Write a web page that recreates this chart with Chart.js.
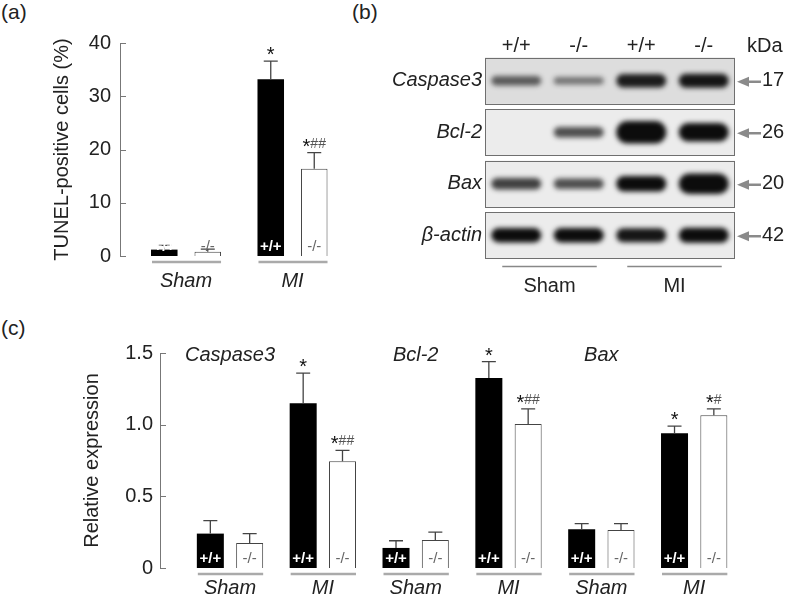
<!DOCTYPE html>
<html>
<head>
<meta charset="utf-8">
<script src="https://cdn.jsdelivr.net/npm/chart.js@4.4.1/dist/chart.umd.min.js"></script>
<style>
  html, body { margin: 0; padding: 0; background: #fff; }
  #fig { position: relative; width: 787px; height: 598px; font-family: "Liberation Sans", Arial, sans-serif; color: #222; }
  .tag { position: absolute; font-size: 21px; line-height: 24px; }
  canvas { position: absolute; }
</style>
</head>
<body>
<div id="fig">
  <div class="tag" style="left:1px;top:0px">(a)</div>
  <div class="tag" style="left:352px;top:0px">(b)</div>
  <div class="tag" style="left:1px;top:316px">(c)</div>
  <canvas id="chartA" width="352" height="300" style="left:0;top:0"></canvas>
  <canvas id="chartB" width="427" height="300" style="left:360px;top:0"></canvas>
  <canvas id="chartC" width="787" height="298" style="left:0;top:300px"></canvas>
</div>
<script>
// ---- (a) TUNEL ----
const groups = ['Sham', 'MI'];
const tunelWT = [1.2, 33.2];
const tunelWTErr = [0.8, 3.4];
const tunelKO = [0.8, 16.4];
const tunelKOErr = [0.5, 3.0];
const tunelWTMarks = ['', '*'];
const tunelKOMarks = ['', '*##'];

// ---- (b) western blot ----
const lanes = ['+/+', '-/-', '+/+', '-/-'];
const laneGroups = ['Sham', 'MI'];
const blotRows = ['Caspase3', 'Bcl-2', 'Bax', 'β-actin'];
const blotKDa = ['17', '26', '20', '42'];
const signalCasp3 = [0.5, 0.35, 0.9, 0.95];
const signalBcl2 = [0, 0.6, 1.8, 1.4];
const signalBax = [0.7, 0.6, 1.1, 1.6];
const signalActin = [1.0, 1.0, 0.95, 1.05];

// ---- (c) relative expression ----
const proteins = ['Caspase3', 'Bcl-2', 'Bax'];
const exprGroups = ['Sham', 'MI', 'Sham', 'MI', 'Sham', 'MI'];
const exprWT = [0.24, 1.15, 0.14, 1.325, 0.27, 0.94];
const exprWTErr = [0.09, 0.21, 0.05, 0.115, 0.04, 0.05];
const exprKO = [0.175, 0.745, 0.195, 1.005, 0.265, 1.065];
const exprKOErr = [0.065, 0.075, 0.055, 0.105, 0.045, 0.045];
const exprWTMarks = ['', '*', '', '*', '', '*'];
const exprKOMarks = ['', '*##', '', '*##', '', '*#'];

const FONT = '"Liberation Sans", Arial, sans-serif';
Chart.defaults.font.family = FONT;
Chart.defaults.color = '#222';

// error bars, stars, bar tags, inward ticks, group underlines
const barDecor = {
  id: 'barDecor',
  afterDatasetsDraw(chart, args, opts) {
    const { ctx, chartArea: area, scales: { x, y } } = chart;
    ctx.save();
    ctx.strokeStyle = '#777';
    ctx.lineWidth = 1;
    y.ticks.forEach(t => {
      const py = Math.round(y.getPixelForValue(t.value)) + 0.5;
      ctx.beginPath();
      ctx.moveTo(area.left, py);
      ctx.lineTo(area.left + 6, py);
      ctx.stroke();
    });

    chart.data.datasets.forEach((ds, di) => {
      const meta = chart.getDatasetMeta(di);
      meta.data.forEach((bar, i) => {
        const v = ds.data[i].y;
        const capY = y.getPixelForValue(v + ds.errs[i]);
        ctx.strokeStyle = '#444';
        ctx.lineWidth = 1.3;
        ctx.beginPath();
        ctx.moveTo(bar.x, bar.y);
        ctx.lineTo(bar.x, capY);
        ctx.moveTo(bar.x - 7, capY);
        ctx.lineTo(bar.x + 7, capY);
        ctx.stroke();

        // genotype tag inside bar
        ctx.textAlign = 'center';
        ctx.textBaseline = 'alphabetic';
        ctx.fillStyle = ds.tagColor;
        ctx.font = (ds.tagBold ? 'bold ' : '') + '15px ' + FONT;
        ctx.fillText(ds.tag, bar.x, bar.base - 5);

        // significance marks: black star, grey hashes
        const mark = ds.marks[i];
        if (mark) {
          const parts = mark.split('').map(c => c === '*'
            ? { c, font: '20px ' + FONT, color: '#111', dy: 0 }
            : { c, font: '14px ' + FONT, color: '#555', dy: -5 });
          let w = 0;
          parts.forEach(p => { ctx.font = p.font; p.w = ctx.measureText(p.c).width; w += p.w; });
          let px = bar.x - w / 2;
          ctx.textAlign = 'left';
          parts.forEach(p => {
            ctx.font = p.font;
            ctx.fillStyle = p.color;
            ctx.fillText(p.c, px, capY + p.dy);
            px += p.w;
          });
        }
      });
    });

    // grey underline under each pair
    const m0 = chart.getDatasetMeta(0), m1 = chart.getDatasetMeta(1);
    ctx.strokeStyle = '#aaa';
    ctx.lineWidth = 2.5;
    m0.data.forEach((b0, i) => {
      const b1 = m1.data[i];
      const ly = b0.base + 6;
      ctx.beginPath();
      ctx.moveTo(b0.x - b0.width / 2 + 1, ly);
      ctx.lineTo(b1.x + b1.width / 2, ly);
      ctx.stroke();
    });

    // protein titles over the Sham pairs
    (opts.titles || []).forEach((t, k) => {
      const i = k * 2;
      const cx = (m0.data[i].x + m1.data[i].x) / 2;
      ctx.font = 'italic 20px ' + FONT;
      ctx.fillStyle = '#222';
      ctx.textAlign = 'center';
      ctx.textBaseline = 'middle';
      ctx.fillText(t, cx, area.top + 2);
    });
    ctx.restore();
  }
};

function barPanel(id, o) {
  return new Chart(document.getElementById(id), {
    type: 'bar',
    data: {
      datasets: [
        { data: o.wt.map((v, i) => ({ x: i, y: v })), backgroundColor: '#000', borderColor: '#000', borderWidth: 0,
          errs: o.wtErr, marks: o.wtMarks, tag: '+/+', tagColor: '#fff', tagBold: true },
        { data: o.ko.map((v, i) => ({ x: i, y: v })), backgroundColor: '#fff', borderColor: '#444', borderWidth: 1,
          errs: o.koErr, marks: o.koMarks, tag: '-/-', tagColor: '#666', tagBold: false }
      ]
    },
    options: {
      responsive: false,
      animation: false,
      categoryPercentage: o.catPct,
      barPercentage: o.barPct,
      layout: { padding: o.padding },
      plugins: { legend: { display: false }, tooltip: { enabled: false }, barDecor: { titles: o.titles } },
      scales: {
        x: {
          type: 'linear', offset: false, min: o.xMin, max: o.xMax,
          afterBuildTicks: s => { s.ticks = o.groups.map((_, i) => ({ value: i })); },
          afterFit: s => { s.height = o.xHeight; },
          grid: { display: false, drawTicks: false },
          border: { display: false },
          ticks: { autoSkip: false, maxRotation: 0, padding: o.xPad, color: '#222',
                   font: { size: 20, style: 'italic' }, callback: v => o.groups[v] }
        },
        y: {
          min: 0, max: o.yMax,
          afterFit: s => { s.width = o.yWidth; },
          grid: { display: false, drawTicks: false },
          border: { display: true, color: '#777', width: 1 },
          title: { display: true, text: o.yTitle, font: { size: 20 }, color: '#222', padding: { top: 4, bottom: 0 } },
          ticks: { stepSize: o.yStep, padding: o.yPad, color: '#222', font: { size: 20 }, callback: o.yFmt }
        }
      }
    },
    plugins: [barDecor]
  });
}

barPanel('chartA', {
  groups, wt: tunelWT, wtErr: tunelWTErr, ko: tunelKO, koErr: tunelKOErr,
  wtMarks: tunelWTMarks, koMarks: tunelKOMarks,
  catPct: 0.817, barPct: 0.61, xMin: -0.62, xMax: 1.54,
  padding: { left: 46.6, top: 43, right: 2, bottom: 0 },
  xHeight: 44, xPad: 13, yWidth: 73.4, yPad: 9,
  yMax: 40, yStep: 10, yTitle: 'TUNEL-positive cells (%)', yFmt: v => String(v)
});

barPanel('chartC', {
  groups: exprGroups, wt: exprWT, wtErr: exprWTErr, ko: exprKO, koErr: exprKOErr,
  wtMarks: exprWTMarks, koMarks: exprKOMarks, titles: proteins,
  catPct: 0.847, barPct: 0.687, xMin: -0.754, xMax: 5.709,
  padding: { left: 76.6, top: 53, right: 27, bottom: 0 },
  xHeight: 30, xPad: 8, yWidth: 83.4, yPad: 7,
  yMax: 1.5, yStep: 0.5, yTitle: 'Relative expression', yFmt: v => v === 0 ? '0' : v.toFixed(1)
});

// ---- blot ----
const signals = [signalCasp3, signalBcl2, signalBax, signalActin];
const bandHalf = v => 0.04 + 0.1 * v;
const bandColor = v => `rgba(12,12,12,${Math.min(1, 0.25 + 0.75 * v).toFixed(2)})`;

const blotDecor = {
  id: 'blotDecor',
  beforeDatasetsDraw(chart) {
    const { ctx, chartArea: area, scales: { y } } = chart;
    ctx.save();
    blotRows.forEach((_, r) => {
      const t = y.getPixelForValue(r - 0.45), b = y.getPixelForValue(r + 0.45);
      ctx.fillStyle = r === 0 ? '#dddddd' : '#ececec';
      ctx.fillRect(area.left, t, area.right - area.left, b - t);
      ctx.strokeStyle = '#6f6f6f';
      ctx.lineWidth = 1;
      ctx.strokeRect(area.left + 0.5, Math.round(t) + 0.5, area.right - area.left - 1, Math.round(b - t));
    });
    ctx.restore();
    ctx.save();
    ctx.filter = 'blur(2.5px)';
  },
  afterDatasetsDraw(chart) {
    const { ctx, chartArea: area, scales: { x, y } } = chart;
    ctx.restore();
    ctx.save();
    // kDa arrows
    blotRows.forEach((_, r) => {
      const py = y.getPixelForValue(r) + 1;
      ctx.strokeStyle = '#8a8a8a';
      ctx.fillStyle = '#8a8a8a';
      ctx.lineWidth = 2.5;
      ctx.beginPath();
      ctx.moveTo(area.right + 11, py);
      ctx.lineTo(area.right + 26, py);
      ctx.stroke();
      ctx.beginPath();
      ctx.moveTo(area.right + 2, py);
      ctx.lineTo(area.right + 14, py - 5);
      ctx.lineTo(area.right + 14, py + 5);
      ctx.closePath();
      ctx.fill();
    });
    ctx.fillStyle = '#222';
    ctx.font = '20px ' + FONT;
    ctx.textAlign = 'left';
    ctx.textBaseline = 'middle';
    ctx.fillText('kDa', area.right + 12, 46);
    // Sham / MI under the lanes
    ctx.strokeStyle = '#888';
    ctx.lineWidth = 1.5;
    laneGroups.forEach((g, k) => {
      const a = x.getPixelForValue(k * 2), b = x.getPixelForValue(k * 2 + 1);
      ctx.beginPath();
      ctx.moveTo(a - 14, area.bottom + 5.5);
      ctx.lineTo(b + 18, area.bottom + 5.5);
      ctx.stroke();
      ctx.textAlign = 'center';
      ctx.fillText(g, (a + b) / 2 + 2, area.bottom + 25);
    });
    ctx.restore();
  }
};

const rowTicks = s => { s.ticks = blotRows.map((_, i) => ({ value: i })); };

new Chart(document.getElementById('chartB'), {
  type: 'bar',
  data: {
    labels: lanes,
    datasets: signals.map((sig, r) => ({
      data: sig.map(v => v > 0 ? [r - bandHalf(v), r + bandHalf(v)] : null),
      backgroundColor: sig.map(bandColor),
      borderWidth: 0,
      borderRadius: 12,
      borderSkipped: false,
      grouped: false,
      yAxisID: 'y'
    }))
  },
  options: {
    responsive: false,
    animation: false,
    categoryPercentage: 1,
    barPercentage: 0.8,
    layout: { padding: { left: 0, right: 0, top: 0, bottom: 35 } },
    plugins: { legend: { display: false }, tooltip: { enabled: false } },
    scales: {
      x: {
        position: 'top',
        afterFit: s => { s.height = 55; },
        grid: { display: false, drawTicks: false },
        border: { display: false },
        ticks: { padding: -3, color: '#222', font: { size: 20 } }
      },
      y: {
        type: 'linear', reverse: true, min: -0.5, max: 3.5,
        afterBuildTicks: rowTicks,
        afterFit: s => { s.width = 125; },
        grid: { display: false, drawTicks: false },
        border: { display: false },
        ticks: { padding: 3, color: '#222', font: { size: 20, style: 'italic' }, callback: v => blotRows[v] }
      },
      kda: {
        type: 'linear', position: 'right', reverse: true, min: -0.5, max: 3.5,
        afterBuildTicks: rowTicks,
        afterFit: s => { s.width = 52; },
        grid: { display: false, drawTicks: false },
        border: { display: false },
        ticks: { padding: 27, color: '#222', font: { size: 20 }, callback: v => blotKDa[v] }
      }
    }
  },
  plugins: [blotDecor]
});
</script>
</body>
</html>
